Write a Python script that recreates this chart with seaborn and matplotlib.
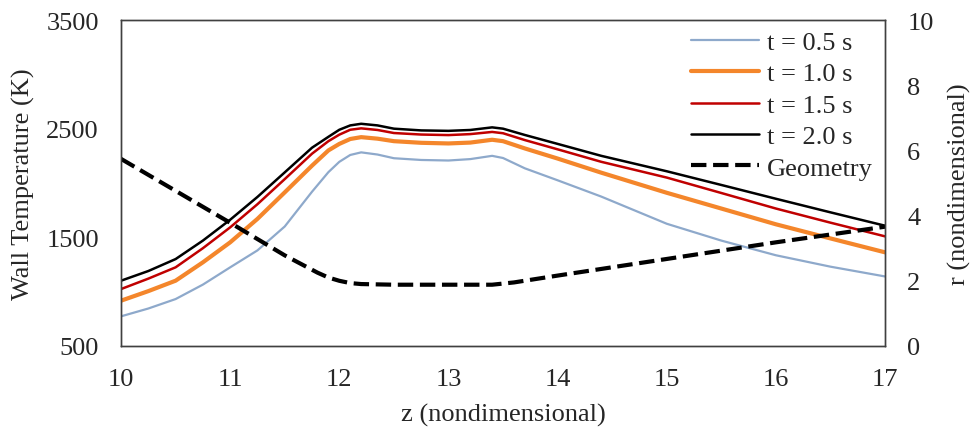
import matplotlib
matplotlib.use('Agg')
import matplotlib.pyplot as plt
import seaborn as sns
import pandas as pd

# Wall temperature (K) along the nozzle
z_temp = [10.0, 10.25, 10.5, 10.75, 11.0, 11.25, 11.5, 11.75, 11.9, 12.0, 12.1, 12.2, 12.35, 12.5,
          12.75, 13.0, 13.2, 13.4, 13.5, 13.7, 14.0, 14.4, 15.0, 15.5, 16.0, 16.5, 17.0]
temp_05 = [773, 845, 932, 1065, 1224, 1380, 1600, 1920, 2100, 2195, 2258, 2282, 2262, 2228,
           2212, 2207, 2220, 2250, 2230, 2135, 2025, 1875, 1625, 1470, 1335, 1230, 1140]
temp_10 = [917, 1005, 1101, 1270, 1454, 1670, 1914, 2160, 2300, 2360, 2405, 2422, 2408, 2385,
           2370, 2364, 2372, 2398, 2385, 2318, 2225, 2095, 1910, 1765, 1620, 1490, 1362]
temp_15 = [1024, 1120, 1224, 1400, 1592, 1805, 2036, 2270, 2385, 2445, 2490, 2503, 2488, 2460,
           2446, 2441, 2450, 2470, 2458, 2395, 2310, 2195, 2050, 1908, 1765, 1635, 1509]
temp_20 = [1101, 1190, 1300, 1470, 1662, 1872, 2098, 2325, 2425, 2490, 2530, 2545, 2530, 2500,
           2484, 2480, 2488, 2512, 2500, 2442, 2360, 2250, 2108, 1982, 1855, 1730, 1607]

# Nozzle geometry r (nondimensional)
z_geom = [10.0, 11.0, 11.5, 11.8, 11.9, 12.0, 12.1, 12.2, 12.5, 13.0, 13.4, 13.6, 14.0, 15.0, 16.0, 17.0]
r_geom = [5.74, 3.78, 2.78, 2.25, 2.1, 2.0, 1.93, 1.9, 1.88, 1.88, 1.88, 1.95, 2.16, 2.67, 3.18, 3.66]

labels = ['t = 0.5 s', 't = 1.0 s', 't = 1.5 s', 't = 2.0 s']
colors = ['#8EA9CB', '#F4862B', '#C00000', '#000000']
widths = [1.6, 3.0, 1.8, 1.8]

sns.set_style('white')
plt.rcParams['font.family'] = ['Liberation Serif', 'DejaVu Serif']

df = pd.DataFrame({'z': z_temp, labels[0]: temp_05, labels[1]: temp_10,
                   labels[2]: temp_15, labels[3]: temp_20})
geo = pd.DataFrame({'z': z_geom, 'r': r_geom})

fig = plt.figure(figsize=(9.73, 4.35), dpi=100)
ax = fig.add_axes([0.1244, 0.2023, 0.7852, 0.7494])

for lab, c, w in zip(labels, colors, widths):
    sns.lineplot(data=df, x='z', y=lab, ax=ax, color=c, linewidth=w, label=lab, legend=False)

ax2 = ax.twinx()
sns.lineplot(data=geo, x='z', y='r', ax=ax2, color='black', linewidth=3,
             linestyle='--', label='Geometry', legend=False)

ax.set_xlim(10, 17)
ax.set_ylim(500, 3500)
ax.set_yticks([500, 1500, 2500, 3500])
ax.set_xticks(range(10, 18))
ax2.set_ylim(0, 10)
ax2.set_yticks([0, 2, 4, 6, 8, 10])

fs = 19
ax.set_xlabel('z (nondimensional)', fontsize=fs, labelpad=9)
ax.set_ylabel('Wall Temperature (K)', fontsize=fs, labelpad=8)
ax2.set_ylabel('r (nondimensional)', fontsize=fs, labelpad=10)
ax.tick_params(axis='both', length=0, labelsize=fs)
ax.tick_params(axis='y', pad=16)
ax.tick_params(axis='x', pad=16)
ax2.tick_params(axis='y', length=0, labelsize=fs, pad=16)

for a in (ax, ax2):
    for s in a.spines.values():
        s.set_color('#404040')
        s.set_linewidth(1.0)

h1, l1 = ax.get_legend_handles_labels()
h2, l2 = ax2.get_legend_handles_labels()
ax2.legend(h1 + h2, l1 + l2, loc='upper right', frameon=False, fontsize=fs,
           handlelength=2.6, handletextpad=0.3, labelspacing=0.3,
           borderaxespad=0.0, bbox_to_anchor=(0.998, 1.0))

plt.savefig('out.png', dpi=100)
plt.close()
